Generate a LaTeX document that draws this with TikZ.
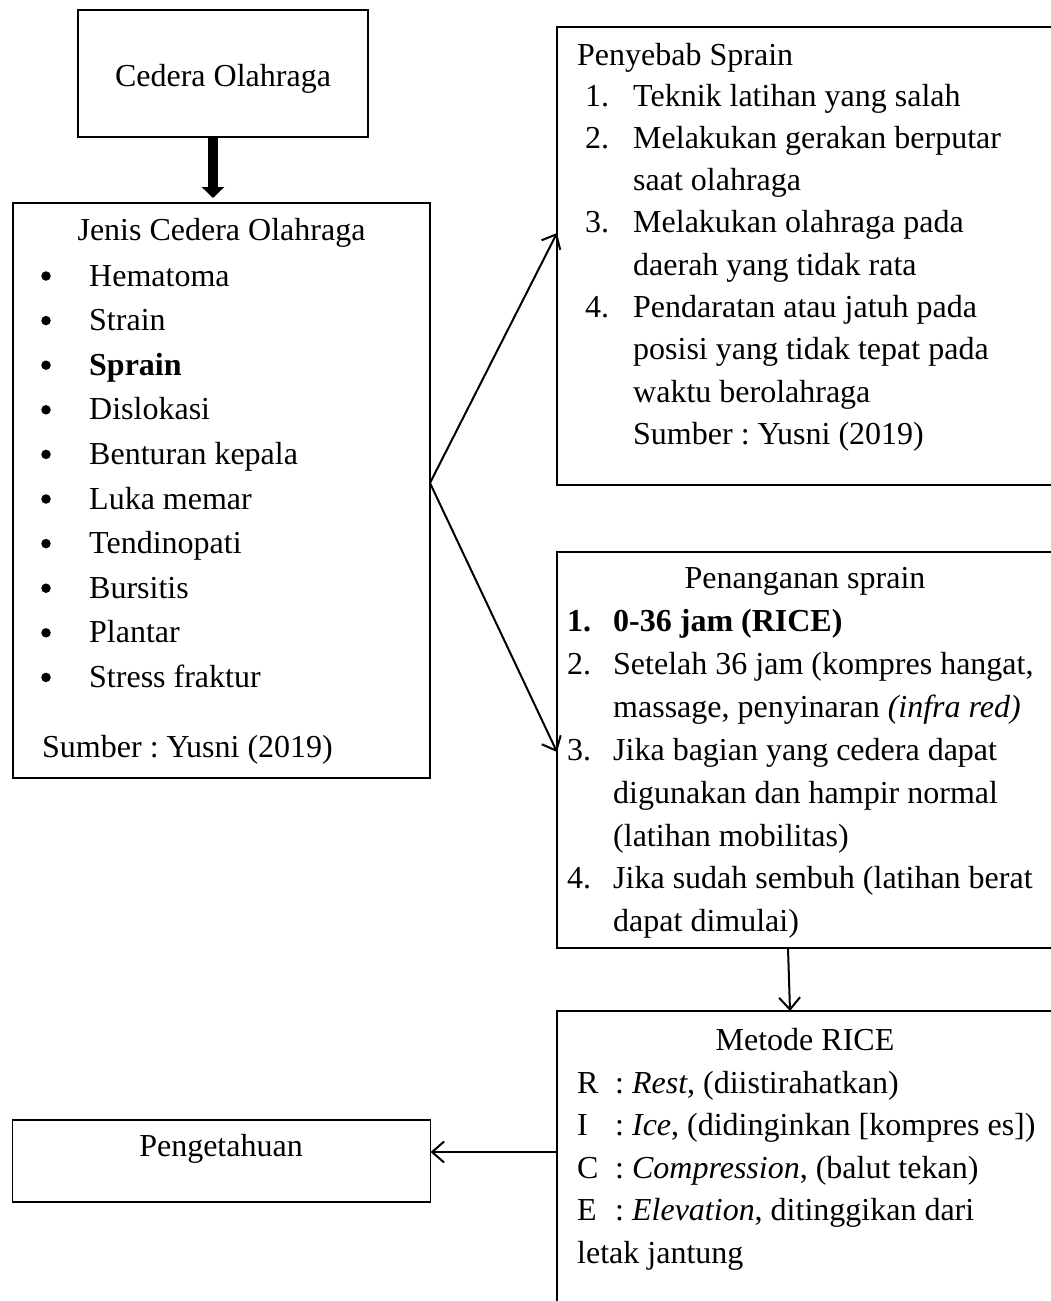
\documentclass[tikz,border=0pt]{standalone}
\usepackage{fontspec}
\setmainfont{Liberation Serif}
\usetikzlibrary{arrows.meta,calc}
\frenchspacing
\newcommand\mytl[4]{\node[txt] (#1) at (#2,#3) {#4};}
\begin{document}
\begin{tikzpicture}[x=1pt,y=-1pt,
  box/.style={draw, line width=1.4pt, rectangle, inner sep=0pt, outer sep=0pt, anchor=north west},
  txt/.style={anchor=base west, inner sep=0pt, font=\fontsize{32}{44}\selectfont\frenchspacing},
  ctxt/.style={anchor=base, inner sep=0pt, font=\fontsize{32}{44}\selectfont\frenchspacing},
  bul/.style={circle, fill=black, inner sep=0pt, minimum size=9.5pt},
  conn/.style={line width=2pt, -{Straight Barb[length=12pt,width=21pt,line width=2pt]}},
  thick arrow/.style={line width=10pt, -{Triangle[length=11pt,width=22pt]}, shorten >=5pt}
]
\useasboundingbox (0,0) rectangle (1051,1301);
\clip (0,0) rectangle (1051,1301);

% boxes
\node[box, minimum width=290pt, minimum height=127pt] (cedera) at (78,10) {};
\node[box, minimum width=417pt, minimum height=575pt] (jenis) at (13,203) {};
\node[box, minimum width=520pt, minimum height=458pt] (penyebab) at (557,27) {};
\node[box, minimum width=520pt, minimum height=396pt] (penanganan) at (557,552) {};
\node[box, minimum width=520pt, minimum height=330pt] (metode) at (557,1011) {};
\node[box, minimum width=418pt, minimum height=82pt] (peng) at (12.6,1120) {};

% Cedera Olahraga
\node[ctxt] (tced) at (223,86) {Cedera Olahraga};

% Jenis Cedera Olahraga
\node[ctxt] (tjen) at (221.5,240) {Jenis Cedera Olahraga};
\foreach \t [count=\i from 0] in {Hematoma,Strain,\textbf{Sprain},Dislokasi,Benturan kepala,Luka memar,Tendinopati,Bursitis,Plantar,Stress fraktur}{
  \node[bul] (jb\i) at (46,286+44.6*\i-10) {};
  \node[txt] (ji\i) at (89,286+44.6*\i) {\t};
}
\mytl{jsum}{42}{757}{Sumber : Yusni (2019)}

% Penyebab Sprain
\mytl{ptitle}{577}{65}{Penyebab Sprain}
\mytl{pn1}{585}{106}{1.}
\mytl{pl1}{633}{106}{Teknik latihan yang salah}
\mytl{pn2}{585}{148.3}{2.}
\mytl{pl2}{633}{148.3}{Melakukan gerakan berputar}
\mytl{pl3}{633}{190.6}{saat olahraga}
\mytl{pn3}{585}{232.9}{3.}
\mytl{pl4}{633}{232.9}{Melakukan olahraga pada}
\mytl{pl5}{633}{275.2}{daerah yang tidak rata}
\mytl{pn4}{585}{317.5}{4.}
\mytl{pl6}{633}{317.5}{Pendaratan atau jatuh pada}
\mytl{pl7}{633}{359.8}{posisi yang tidak tepat pada}
\mytl{pl8}{633}{402.1}{waktu berolahraga}
\mytl{pl9}{633}{444.4}{Sumber : Yusni (2019)}

% Penanganan sprain
\node[ctxt] (qtitle) at (805,588) {Penanganan sprain};
\mytl{qn1}{567}{631}{\textbf{1.}}
\mytl{ql1}{613}{631}{\textbf{0-36 jam (RICE)}}
\mytl{qn2}{567}{674}{2.}
\mytl{ql2}{613}{674}{Setelah 36 jam (kompres hangat,}
\mytl{ql3}{613}{717}{massage, penyinaran \textit{(infra red)}}
\mytl{qn3}{567}{760}{3.}
\mytl{ql4}{613}{760}{Jika bagian yang cedera dapat}
\mytl{ql5}{613}{803}{digunakan dan hampir normal}
\mytl{ql6}{613}{846}{(latihan mobilitas)}
\mytl{qn4}{567}{888}{4.}
\mytl{ql7}{613}{888}{Jika sudah sembuh (latihan berat}
\mytl{ql8}{613}{931}{dapat dimulai)}

% Metode RICE
\node[ctxt] (mtitle) at (805,1050) {Metode RICE};
\mytl{ml1}{577}{1093}{\makebox[38pt][l]{R}: \textit{Rest}, (diistirahatkan)}
\mytl{ml2}{577}{1135}{\makebox[38pt][l]{I}: \textit{Ice}, (didinginkan [kompres es])}
\mytl{ml3}{577}{1178}{\makebox[38pt][l]{C}: \textit{Compression}, (balut tekan)}
\mytl{ml4}{577}{1220}{\makebox[38pt][l]{E}: \textit{Elevation}, ditinggikan dari}
\mytl{ml5}{577}{1263}{letak jantung}

% Pengetahuan
\node[ctxt] (tpeng) at (221,1156) {Pengetahuan};

% connector helpers
\coordinate (xa) at (213,0);
\coordinate (ya) at (0,483);
\coordinate (yb) at (0,233);
\coordinate (yc) at (0,752);
\coordinate (xb) at (788,0);
\coordinate (xc) at (790,0);
\coordinate (yd) at (0,1152);

% connectors
\draw[thick arrow] (cedera.south -| xa) -- (jenis.north -| xa);
\draw[conn] (jenis.east |- ya) -- (penyebab.west |- yb);
\draw[conn] (jenis.east |- ya) -- (penanganan.west |- yc);
\draw[conn] (penanganan.south -| xb) -- (metode.north -| xc);
\draw[conn] (metode.west |- yd) -- (peng.east |- yd);
\end{tikzpicture}
\end{document}
